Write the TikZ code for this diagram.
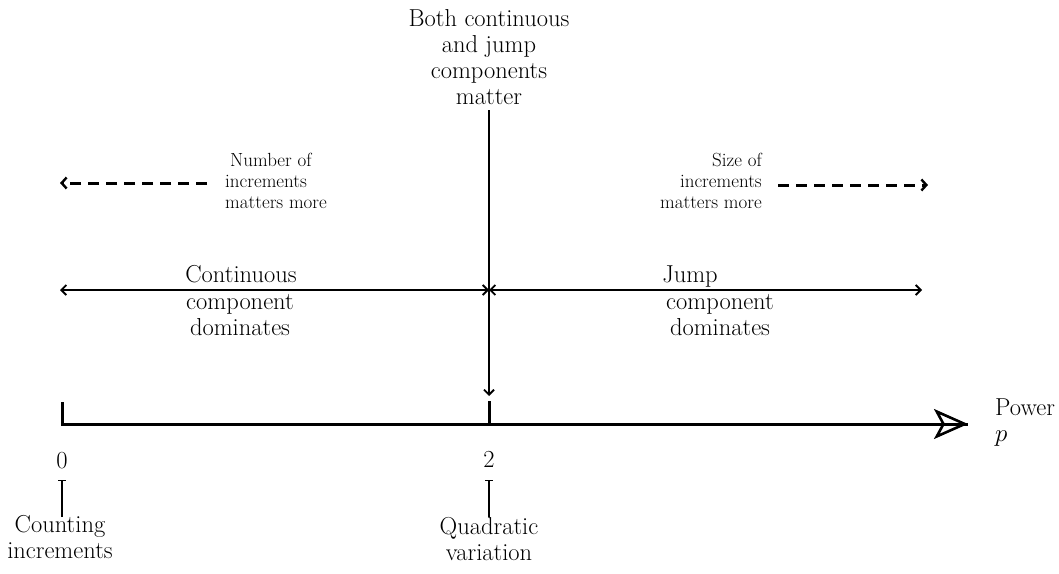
\documentclass[tikz,border=0pt]{standalone}
\usetikzlibrary{arrows.meta}
\tikzset{
  bigtext/.style={align=center,font=\fontsize{24.5}{25.7}\selectfont,inner sep=0pt},
  smalltext/.style={font=\fontsize{19}{20.7}\selectfont,inner sep=0pt},
  barb/.tip={Straight Barb[length=5pt,width=10pt,line width=1.8pt]},
  dbarb/.tip={Straight Barb[length=5pt,width=11pt,line width=2.4pt]},
  tip/.style={-{barb}},
  both/.style={{barb}-{barb}},
  thin/.style={line width=1.4pt},
  dashline/.style={line width=3pt,dash pattern=on 11pt off 7pt},
  axis/.style={line width=3pt},
}
\begin{document}
\begin{tikzpicture}[x=1pt,y=-1pt]
\useasboundingbox (0,0) rectangle (1059,573);
% top text
\node[bigtext,anchor=base] (both) at (489,104) {Both continuous\\and jump\\components\\matter};
% vertical arrow
\coordinate (vtop) at (489,110);
\coordinate (vbot) at (489,396);
\draw[thin,tip] (vtop) -- (vbot);
% axis
\coordinate (a0) at (62,424);
\coordinate (a0t) at (62,402);
\coordinate (a2) at (489,424);
\coordinate (a2t) at (489,401);
\coordinate (aend) at (968,424);
\draw[axis,line join=miter] (a0t) -- (a0) -- (aend);
\draw[axis] (a2t) -- (a2);
\draw[line width=2.6pt,-{Stealth[open,length=34pt,width=30pt,inset=8pt,line width=2.6pt]}] (930,424) -- (aend);
\node[bigtext,align=left,anchor=base west] (power) at (995,441) {Power\\$p$};
% middle double arrows
\coordinate (hl) at (60,290);
\coordinate (hm) at (489,290);
\coordinate (hr) at (922,290);
\draw[thin,both] (hl) -- (hm);
\draw[thin,both] (hm) -- (hr);
\node[bigtext,anchor=base] (cont) at (241,282) {Continuous};
\node[bigtext,anchor=base] (contd) at (240,335) {component\\dominates};
\node[bigtext,anchor=base] (jump) at (690,282) {Jump};
\node[bigtext,anchor=base] (jumpd) at (720,335) {component\\dominates};
% dashed arrows
\coordinate (dl1) at (207,183);
\coordinate (dl2) at (60,183);
\draw[dashline,-{dbarb}] (dl1) -- (dl2);
\node[smalltext,align=left,anchor=base west] (num) at (225,208) {\hspace*{5pt}Number of\\increments\\matters more};
\coordinate (dr1) at (778,185);
\coordinate (dr2) at (928,185);
\draw[dashline,-{dbarb}] (dr1) -- (dr2);
\node[smalltext,align=right,anchor=base east] (size) at (762,208) {Size of\\increments\\matters more};
% bottom labels
\node[bigtext,anchor=base] (zero) at (62,468) {0};
\node[bigtext,anchor=base] (two) at (489,467) {2};
\coordinate (z1) at (62,517);
\coordinate (z2) at (62,480);
\coordinate (t1) at (489,517);
\coordinate (t2) at (489,480);
\draw[line width=1.2pt,-{Bar[width=8pt,line width=1.2pt]}] (z1) -- (z2);
\draw[line width=1.2pt,-{Bar[width=8pt,line width=1.2pt]}] (t1) -- (t2);
\node[bigtext,anchor=base] (count) at (60,558) {Counting\\increments};
\node[bigtext,anchor=base] (quad) at (489,560) {Quadratic\\variation};
\end{tikzpicture}
\end{document}
